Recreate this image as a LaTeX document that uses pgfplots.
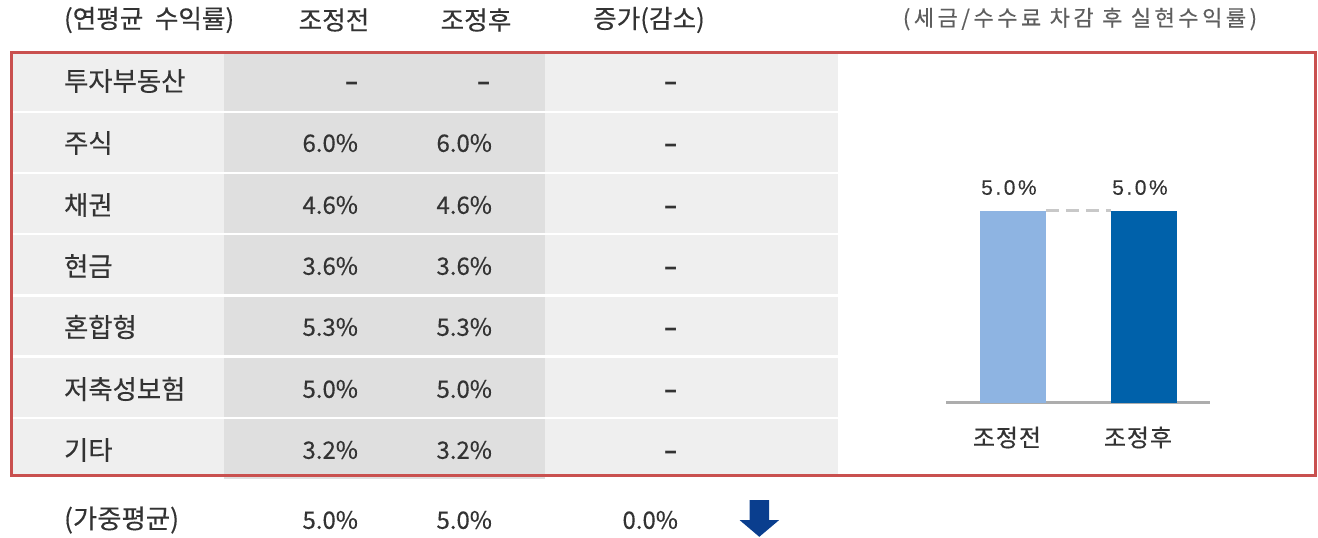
\documentclass[border=0pt]{standalone}
\usepackage{pgfplots}
\pgfplotsset{compat=1.18}
\usepackage{fontspec}
\setmainfont{Noto Sans CJK KR}
\newfontfamily\tabfont[FakeBold=0.3]{Noto Sans CJK KR}
\newfontfamily\titlefont[LetterSpace=16,FakeBold=0.3]{Noto Sans CJK KR}
\newfontfamily\catfont[LetterSpace=4,FakeBold=0.5]{Noto Sans CJK KR}
\newfontfamily\numfont[LetterSpace=12,FakeBold=0.2]{Liberation Sans}
\definecolor{lightg}{HTML}{EFEFEF}
\definecolor{darkg}{HTML}{DFDFDF}
\definecolor{redb}{HTML}{C9504F}
\definecolor{textc}{HTML}{333333}
\definecolor{titlec}{HTML}{5E5E5E}
\definecolor{arrowblue}{HTML}{0A3E8E}
\definecolor{barlight}{HTML}{8EB4E2}
\definecolor{bardark}{HTML}{0061AA}
\definecolor{axisgray}{HTML}{ADADAD}
\definecolor{dashc}{HTML}{C8C8C8}
\begin{document}
\begin{tikzpicture}
\begin{axis}[name=outer, width=659pt, height=268.5pt, scale only axis,
  xmin=0, xmax=1318, ymin=0, ymax=537, y dir=reverse, hide axis, clip=false]
% table background
\fill[lightg] (12,52) rectangle (838,475);
\fill[darkg] (224,52) rectangle (545,478.5);
% row separators
\draw[white, line width=1.2pt] (12,111.7) -- (838,111.7);
\draw[white, line width=1.2pt] (12,172.9) -- (838,172.9);
\draw[white, line width=1.2pt] (12,234.1) -- (838,234.1);
\draw[white, line width=1.2pt] (12,295.3) -- (838,295.3);
\draw[white, line width=1.2pt] (12,356.5) -- (838,356.5);
\draw[white, line width=1.2pt] (12,417.7) -- (838,417.7);
% red border
\draw[redb, line width=1.2pt] (11.3,52.3) rectangle (1315.4,475.6);
% styles
\tikzset{lab/.style={anchor=west, text=textc, font=\fontsize{13.2}{15}\tabfont},
         hdr/.style={text=textc, font=\fontsize{12.8}{15}\tabfont},
         val/.style={anchor=east, text=textc, font=\fontsize{12}{14}\tabfont},
         dsh/.style={text=textc, font=\fontsize{12}{14}\bfseries}}
% header
\node[lab, font=\fontsize{12.8}{15}\tabfont] at (57,20) {(연평균\hspace{0.45em}수익률)};
\node[hdr] at (334,20) {조정전};
\node[hdr] at (476,20) {조정후};
\node[hdr] at (649,20) {증가(감소)};
\node[text=titlec, font=\fontsize{11}{13}\titlefont] at (1080,19) {(세금/수수료 차감 후 실현수익률)};
% rows
\node[lab] at (57,81) {투자부동산};
\node[dsh] at (352,86) {–};
\node[dsh] at (484,86) {–};
\node[dsh] at (671,86) {–};
\node[lab] at (57,143) {주식};
\node[val] at (365,143) {6.0\%};
\node[val] at (499,143) {6.0\%};
\node[dsh] at (671,148) {–};
\node[lab] at (57,205) {채권};
\node[val] at (365,205) {4.6\%};
\node[val] at (499,205) {4.6\%};
\node[dsh] at (671,210) {–};
\node[lab] at (57,266) {현금};
\node[val] at (365,266) {3.6\%};
\node[val] at (499,266) {3.6\%};
\node[dsh] at (671,271) {–};
\node[lab] at (57,327) {혼합형};
\node[val] at (365,327) {5.3\%};
\node[val] at (499,327) {5.3\%};
\node[dsh] at (671,332) {–};
\node[lab] at (57,389) {저축성보험};
\node[val] at (365,389) {5.0\%};
\node[val] at (499,389) {5.0\%};
\node[dsh] at (671,394) {–};
\node[lab] at (57,450) {기타};
\node[val] at (365,450) {3.2\%};
\node[val] at (499,450) {3.2\%};
\node[dsh] at (671,455) {–};
% weighted average
\node[lab] at (57,520) {(가중평균)};
\node[val] at (365,520) {5.0\%};
\node[val] at (499,520) {5.0\%};
\node[val] at (685,520) {0.0\%};
% arrow
\fill[arrowblue] (749.5,500) -- (749.5,520) -- (739.5,520) -- (759.3,536.8)
  -- (779.2,520) -- (769.1,520) -- (769.1,500) -- cycle;
\coordinate (bsw) at (946,402.5);
\end{axis}
\begin{axis}[at={(bsw)}, anchor=south west, width=132pt, height=115.2pt, scale only axis,
  xmin=-0.511, xmax=1.504, ymin=0, ymax=6,
  axis y line=none, axis x line*=bottom,
  x axis line style={draw=axisgray, line width=1.1pt, -},
  xtick={0,1}, xticklabels={조정전,조정후}, ytick=\empty,
  major tick length=0pt,
  xticklabel style={anchor=center, yshift=-17.5pt, xshift=-3pt, text=textc, font=\fontsize{12}{14}\catfont},
  clip=false,
  /pgf/number format/assume math mode=true,
  nodes near coords={\pgfmathprintnumber[fixed,fixed zerofill,precision=1]{\pgfplotspointmeta}\%},
  nodes near coords style={anchor=center, yshift=11.5pt, xshift=-2pt, text=textc, font=\fontsize{10.5}{12}\numfont},
]
\addplot[ybar, bar width=33pt, bar shift=0pt, fill=barlight, draw=none] coordinates {(0,5.0)};
\addplot[ybar, bar width=33pt, bar shift=0pt, fill=bardark, draw=none] coordinates {(1,5.0)};
\draw[dashc, line width=1.1pt, dash pattern=on 6.5pt off 3.5pt] (axis cs:0.252,5) -- (axis cs:0.748,5);
\end{axis}
\pgfresetboundingbox
\path[use as bounding box] (outer.south west) rectangle (outer.north east);
\end{tikzpicture}
\end{document}
